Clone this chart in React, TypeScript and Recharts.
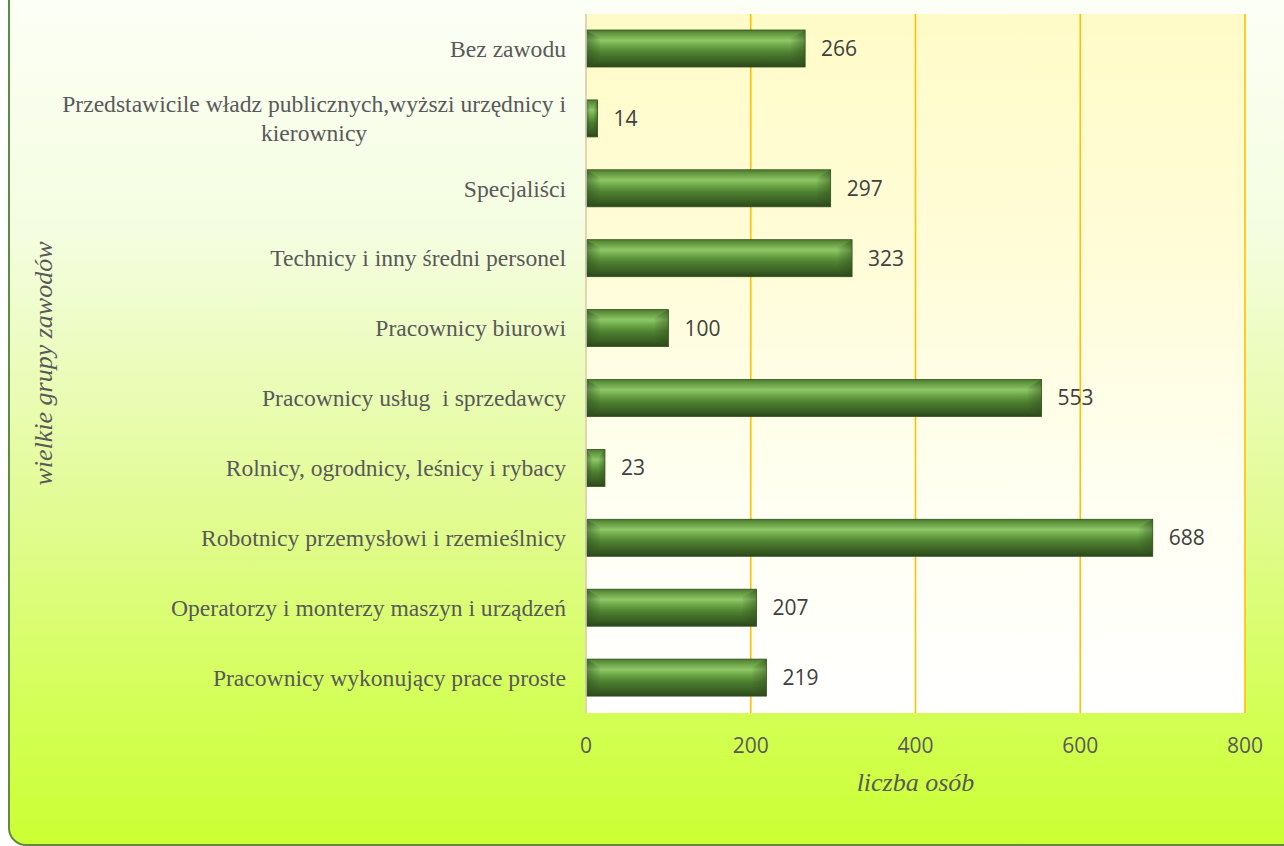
import React from 'react';
import { BarChart, Bar, XAxis, YAxis, CartesianGrid, LabelList } from 'recharts';

const categories = [
  'Bez zawodu',
  'Przedstawicile władz publicznych,wyższi urzędnicy i kierownicy',
  'Specjaliści',
  'Technicy i inny średni personel',
  'Pracownicy biurowi',
  'Pracownicy usług  i sprzedawcy',
  'Rolnicy, ogrodnicy, leśnicy i rybacy',
  'Robotnicy przemysłowi i rzemieślnicy',
  'Operatorzy i monterzy maszyn i urządzeń',
  'Pracownicy wykonujący prace proste',
];

const values = [266, 14, 297, 323, 100, 553, 23, 688, 207, 219];

const xTicks = [0, 200, 400, 600, 800];

const xTitle = 'liczba osób';
const yTitle = 'wielkie grupy zawodów';

const data = categories.map((name, i) => ({ name, value: values[i] }));

const SERIF = "'Liberation Serif', 'Times New Roman', serif";
const SANS = "'Open Sans', 'Noto Sans', sans-serif";
const CAT_SIZE = 23.6;

let measureCtx: CanvasRenderingContext2D | null = null;
function measure(text: string, font: string): number {
  if (!measureCtx) {
    const c = document.createElement('canvas');
    measureCtx = c.getContext('2d');
  }
  if (!measureCtx) return text.length * 10;
  measureCtx.font = font;
  return measureCtx.measureText(text).width;
}

function wrap(text: string, maxW: number, font: string): string[] {
  const words = text.split(' ');
  const lines: string[] = [];
  let cur = '';
  for (const w of words) {
    const cand = cur === '' ? w : cur + ' ' + w;
    if (measure(cand, font) > maxW && cur !== '') {
      lines.push(cur);
      cur = w;
    } else {
      cur = cand;
    }
  }
  if (cur !== '') lines.push(cur);
  return lines;
}

const CategoryTick = (props: any) => {
  const { x, y, payload } = props;
  const font = `${CAT_SIZE}px ${SERIF}`;
  const lines = wrap(String(payload.value), 530, font);
  const right = x - 20;
  const lh = 29;
  if (lines.length === 1) {
    return (
      <text x={right} y={y} dy="0.33em" textAnchor="end" fill="#595959"
        style={{ fontFamily: SERIF, fontSize: CAT_SIZE, whiteSpace: 'pre' }}>
        {lines[0]}
      </text>
    );
  }
  const maxW = Math.max(...lines.map((l) => measure(l, font)));
  const cx = right - maxW / 2;
  const y0 = y - ((lines.length - 1) * lh) / 2;
  return (
    <text textAnchor="middle" fill="#595959" style={{ fontFamily: SERIF, fontSize: CAT_SIZE, whiteSpace: 'pre' }}>
      {lines.map((l, i) => (
        <tspan key={i} x={cx} y={y0 + i * lh} dy="0.33em">{l}</tspan>
      ))}
    </text>
  );
};

const ValueTick = (props: any) => {
  const { x, y, payload } = props;
  return (
    <text x={x} y={y + 40} textAnchor="middle" fill="#595959"
      style={{ fontFamily: SANS, fontSize: 21 }}>
      {payload.value}
    </text>
  );
};

const BevelBar = (props: any) => {
  const { x, y, width, height } = props;
  if (width <= 0 || height <= 0) return null;
  const b = Math.min(14, width / 3);
  const t = height * 0.22;
  return (
    <g>
      <rect x={x} y={y} width={width} height={height} fill="url(#barGrad)" stroke="#33501f" strokeWidth={0.8} />
      <polygon points={`${x},${y} ${x + b},${y + t} ${x + b},${y + height - t} ${x},${y + height}`}
        fill="url(#leftBevel)" />
      <polygon points={`${x + width},${y} ${x + width - b},${y + t} ${x + width - b},${y + height - t} ${x + width},${y + height}`}
        fill="url(#rightBevel)" />
    </g>
  );
};

const XTitle = (props: any) => {
  const vb = props.viewBox || {};
  return (
    <text x={vb.x + vb.width / 2} y={vb.y + 78} textAnchor="middle" fill="#595959"
      style={{ fontFamily: SERIF, fontSize: 26, fontStyle: 'italic' }}>
      {xTitle}
    </text>
  );
};

const YTitle = (props: any) => {
  const vb = props.viewBox || {};
  const cy = vb.y + vb.height / 2;
  const cx = 52;
  return (
    <text x={cx} y={cy} textAnchor="middle" transform={`rotate(-90 ${cx} ${cy})`} fill="#595959"
      style={{ fontFamily: SERIF, fontSize: 26, fontStyle: 'italic' }}>
      {yTitle}
    </text>
  );
};

export default function App() {
  return (
    <div style={{ position: 'absolute', left: 0, top: 0, width: 1284, height: 846, overflow: 'hidden' }}>
      <div
        style={{
          position: 'absolute',
          left: 8,
          top: -30,
          width: 1320,
          height: 876,
          border: '2px solid #5f8a40',
          borderRadius: 18,
          background: 'linear-gradient(to bottom, #fdfff8 0%, #f4fde0 30%, #e3fb98 60%, #d3ff55 85%, #ccff33 100%)',
          boxSizing: 'border-box',
        }}
      />
      <div style={{ position: 'absolute', left: 0, top: 0 }}>
        <BarChart
          width={1284}
          height={846}
          data={data}
          layout="vertical"
          margin={{ top: 14, right: 39, bottom: 0, left: 0 }}
          barSize={37}
        >
          <defs>
            <linearGradient id="plotGrad" x1="0" y1="0" x2="0" y2="1">
              <stop offset="0%" stopColor="#fffbc8" />
              <stop offset="35%" stopColor="#fffcd8" />
              <stop offset="70%" stopColor="#fffff2" />
              <stop offset="100%" stopColor="#ffffff" />
            </linearGradient>
            <linearGradient id="barGrad" x1="0" y1="0" x2="0" y2="1">
              <stop offset="0%" stopColor="#4a7a2c" />
              <stop offset="8%" stopColor="#5f933d" />
              <stop offset="28%" stopColor="#8fc767" />
              <stop offset="42%" stopColor="#6ea848" />
              <stop offset="60%" stopColor="#4f8231" />
              <stop offset="85%" stopColor="#3a5f23" />
              <stop offset="100%" stopColor="#2b461a" />
            </linearGradient>
            <linearGradient id="leftBevel" x1="0" y1="0" x2="1" y2="0">
              <stop offset="0%" stopColor="#2f4d1d" stopOpacity={0.55} />
              <stop offset="100%" stopColor="#2f4d1d" stopOpacity={0.05} />
            </linearGradient>
            <linearGradient id="rightBevel" x1="1" y1="0" x2="0" y2="0">
              <stop offset="0%" stopColor="#2f4d1d" stopOpacity={0.5} />
              <stop offset="100%" stopColor="#2f4d1d" stopOpacity={0.05} />
            </linearGradient>
          </defs>
          <CartesianGrid horizontal={false} stroke="#ffc000" strokeWidth={1.6} fill="url(#plotGrad)" fillOpacity={1} />
          <XAxis
            type="number"
            domain={[0, 800]}
            ticks={xTicks}
            height={133}
            axisLine={false}
            tickLine={false}
            tickSize={0}
            tickMargin={0}
            tick={<ValueTick />}
            interval={0}
            label={<XTitle />}
          />
          <YAxis
            type="category"
            dataKey="name"
            width={586}
            axisLine={{ stroke: '#d9d9d9', strokeWidth: 1.5 }}
            tickLine={false}
            tickSize={0}
            tickMargin={0}
            tick={<CategoryTick />}
            interval={0}
            label={<YTitle />}
          />
          <Bar dataKey="value" shape={<BevelBar />} isAnimationActive={false}>
            <LabelList dataKey="value" position="right" offset={16} fill="#404040"
              style={{ fontFamily: SANS, fontSize: 21 }} />
          </Bar>
        </BarChart>
      </div>
    </div>
  );
}
